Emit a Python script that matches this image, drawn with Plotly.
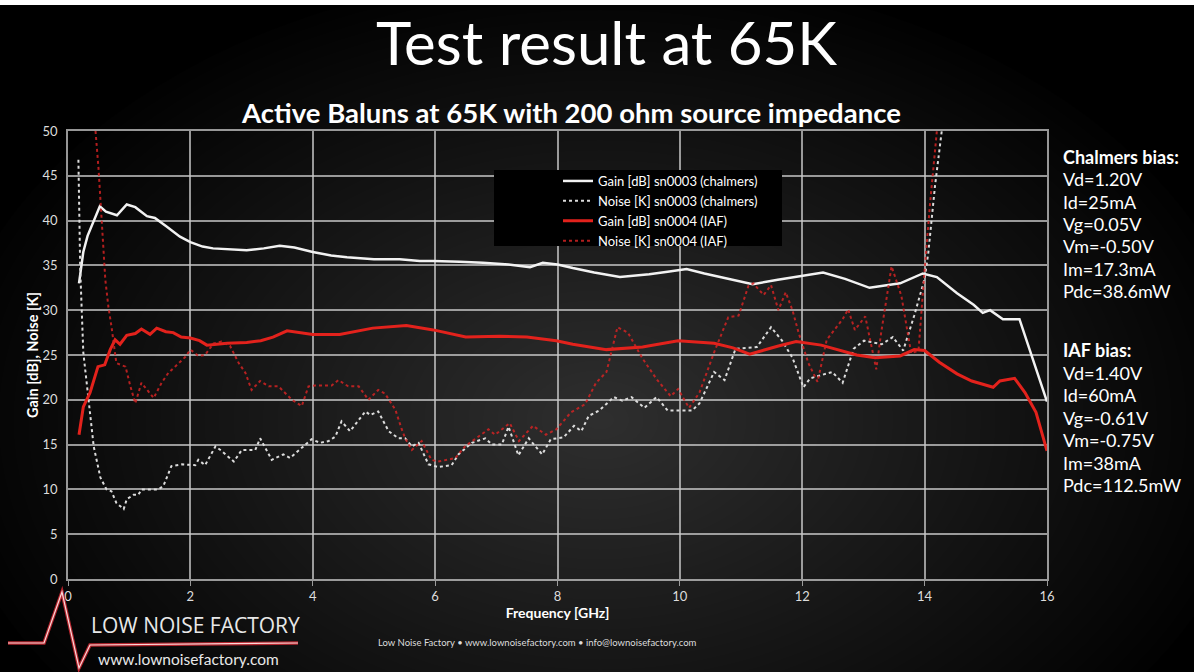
import plotly.graph_objects as go

# ---------------- data ----------------
gain_w_f = [0.18, 0.25, 0.32, 0.42, 0.52, 0.62, 0.8, 0.96, 1.1, 1.29, 1.42, 1.6, 1.83, 2.0, 2.2, 2.37,
            2.65, 2.92, 3.2, 3.46, 3.7, 4.0, 4.3, 4.56, 5.0, 5.42, 5.75, 5.97, 6.4, 6.78, 7.2, 7.55,
            7.76, 8.0, 8.25, 8.6, 9.02, 9.5, 9.8, 10.11, 10.4, 10.8, 11.19, 11.6, 11.96, 12.34, 12.7,
            13.1, 13.6, 13.97, 14.2, 14.53, 14.8, 14.95, 15.07, 15.28, 15.55, 15.75, 16.0]
gain_w_v = [33.0, 36.5, 38.3, 40.0, 41.6, 41.0, 40.6, 41.8, 41.5, 40.5, 40.3, 39.4, 38.2, 37.6, 37.1, 36.9,
            36.8, 36.7, 36.9, 37.2, 37.0, 36.5, 36.1, 35.9, 35.7, 35.7, 35.5, 35.5, 35.4, 35.3, 35.1, 34.8,
            35.3, 35.1, 34.7, 34.2, 33.7, 34.0, 34.3, 34.6, 34.1, 33.5, 32.9, 33.4, 33.8, 34.2, 33.5,
            32.5, 33.0, 34.1, 33.7, 31.9, 30.6, 29.7, 30.0, 29.0, 29.0, 25.0, 19.8]

gain_r_f = [0.18, 0.25, 0.36, 0.49, 0.6, 0.69, 0.77, 0.85, 0.96, 1.1, 1.2, 1.34, 1.45, 1.6, 1.72, 1.85,
            2.0, 2.15, 2.27, 2.6, 2.92, 3.15, 3.35, 3.58, 4.0, 4.44, 4.98, 5.53, 5.97, 6.5, 7.05, 7.5,
            7.98, 8.25, 8.8, 9.39, 9.97, 10.56, 10.87, 11.14, 11.61, 11.9, 12.31, 12.89, 13.19, 13.6,
            13.83, 14.0, 14.24, 14.53, 14.77, 15.12, 15.23, 15.47, 15.64, 15.82, 16.0]
gain_r_v = [16.1, 19.2, 20.8, 23.7, 23.9, 25.6, 26.7, 26.2, 27.2, 27.4, 27.9, 27.3, 28.0, 27.6, 27.5, 27.0,
            26.9, 26.6, 26.1, 26.3, 26.4, 26.6, 27.0, 27.7, 27.3, 27.3, 28.0, 28.3, 27.8, 27.0, 27.1, 27.0,
            26.6, 26.2, 25.6, 25.9, 26.6, 26.3, 25.8, 25.1, 26.0, 26.5, 26.1, 25.0, 24.7, 24.9,
            25.6, 25.5, 24.2, 22.9, 22.1, 21.4, 22.1, 22.4, 20.8, 18.6, 14.3]

noise_w_f = [0.17, 0.2, 0.25, 0.34, 0.42, 0.53, 0.63, 0.71, 0.79, 0.91, 0.96, 1.07, 1.15, 1.2, 1.48, 1.56,
             1.69, 1.86, 2.08, 2.13, 2.24, 2.41, 2.51, 2.71, 2.84, 3.06, 3.14, 3.33, 3.52, 3.63, 3.82,
             3.98, 4.12, 4.26, 4.37, 4.47, 4.61, 4.86, 4.94, 5.07, 5.24, 5.4, 5.51, 5.62, 5.73, 5.89,
             6.05, 6.27, 6.38, 6.6, 6.82, 6.93, 7.09, 7.2, 7.36, 7.53, 7.75, 7.89, 8.1, 8.27, 8.39,
             8.51, 8.68, 8.92, 9.06, 9.21, 9.42, 9.62, 9.8, 10.2, 10.32, 10.56, 10.73, 10.91, 11.26,
             11.49, 11.67, 11.84, 12.02, 12.13, 12.49, 12.66, 12.84, 13.01, 13.3, 13.48, 13.65, 13.83,
             14.0, 14.06, 14.17, 14.28]
noise_w_v = [46.8, 34.5, 25.3, 20.0, 14.8, 11.3, 10.0, 9.8, 8.5, 7.8, 8.9, 9.4, 9.4, 10.0, 10.0, 10.4,
             12.6, 12.8, 12.7, 13.3, 12.7, 14.8, 14.3, 13.1, 14.4, 14.4, 15.7, 13.3, 13.9, 13.5, 14.6,
             15.6, 15.2, 15.4, 15.9, 17.6, 16.5, 18.7, 18.3, 18.7, 16.5, 15.7, 15.7, 14.8, 15.2, 12.8,
             12.5, 12.7, 13.9, 15.2, 15.7, 15.0, 15.0, 17.0, 13.8, 15.7, 13.9, 15.6, 15.8, 17.1, 16.5,
             18.2, 18.8, 20.3, 19.9, 20.3, 19.1, 20.3, 18.8, 18.8, 19.6, 23.1, 22.2, 25.7, 25.9,
             28.1, 26.6, 24.7, 21.4, 22.4, 23.1, 21.9, 25.7, 26.6, 26.2, 27.0, 25.5, 29.4,
             33.5, 36.4, 43.9, 50.0]

noise_r_f = [0.45, 0.5, 0.55, 0.61, 0.66, 0.71, 0.79, 0.94, 1.02, 1.1, 1.2, 1.4, 1.53, 1.64, 1.75, 1.92,
             2.0, 2.13, 2.24, 2.38, 2.51, 2.65, 2.79, 2.9, 3.0, 3.14, 3.28, 3.44, 3.66, 3.82, 3.93,
             4.04, 4.31, 4.42, 4.58, 4.75, 4.91, 5.07, 5.18, 5.35, 5.45, 5.51, 5.62, 5.78, 5.94, 6.05,
             6.33, 6.49, 6.71, 6.87, 6.98, 7.22, 7.37, 7.6, 7.81, 7.98, 8.22, 8.45, 8.63, 8.8, 8.98,
             9.15, 9.39, 9.62, 9.85, 9.97, 10.15, 10.32, 10.56, 10.79, 10.96, 11.12, 11.2, 11.37,
             11.49, 11.61, 11.73, 11.84, 11.94, 12.1, 12.25, 12.4, 12.66, 12.75, 12.86, 13.03, 13.21,
             13.29, 13.46, 13.62, 13.78, 13.9, 14.0, 14.09, 14.2]
noise_r_v = [50.0, 45.7, 40.1, 33.4, 30.4, 28.2, 24.1, 23.7, 21.5, 19.6, 21.9, 20.2, 21.9, 23.0, 23.7, 24.8,
             25.6, 24.9, 25.0, 26.3, 26.5, 26.0, 24.1, 23.0, 21.1, 22.1, 21.5, 21.5, 20.0, 19.3, 21.5,
             21.6, 21.6, 22.2, 21.5, 21.5, 20.0, 21.1, 20.7, 18.9, 16.8, 15.7, 14.4, 15.4, 13.3, 13.1,
             13.5, 14.8, 15.9, 16.7, 16.1, 17.4, 15.4, 17.1, 16.1, 16.7, 18.6, 19.5, 21.9, 23.1, 28.1,
             27.5, 24.6, 22.3, 20.4, 21.2, 19.1, 20.8, 25.3, 29.2, 29.4, 32.7, 33.0, 31.7,
             32.8, 30.0, 32.0, 30.0, 27.5, 24.1, 22.0, 26.7, 29.0, 30.1, 27.8, 29.3, 23.4,
             27.5, 34.9, 31.6, 25.2, 25.5, 34.5, 42.0, 50.0]

series_names = ["Gain [dB] sn0003 (chalmers)", "Noise [K] sn0003 (chalmers)",
                "Gain [dB] sn0004 (IAF)", "Noise [K] sn0004 (IAF)"]

x_ticks = [0, 2, 4, 6, 8, 10, 12, 14, 16]
y_ticks = [0, 5, 10, 15, 20, 25, 30, 35, 40, 45, 50]

chalmers_lines = ["<b>Chalmers bias:</b>", "Vd=1.20V", "Id=25mA", "Vg=0.05V", "Vm=-0.50V", "Im=17.3mA", "Pdc=38.6mW"]
iaf_lines = ["<b>IAF bias:</b>", "Vd=1.40V", "Id=60mA", "Vg=-0.61V", "Vm=-0.75V", "Im=38mA", "Pdc=112.5mW"]

# ---------------- layout geometry ----------------
W, H = 1194, 672
L, R, T, B = 68, 147, 131, 93
PW, PH = W - L - R, H - T - B


def px(xp):
    return (xp - L) / PW


def py(yp):
    return (H - B - yp) / PH


FONT = "Lato, 'Open Sans', sans-serif"

fig = go.Figure()
fig.add_trace(go.Scatter(x=gain_w_f, y=gain_w_v, mode="lines", name=series_names[0],
                         line=dict(color="#f2f2f2", width=2.5)))
fig.add_trace(go.Scatter(x=noise_w_f, y=noise_w_v, mode="lines", name=series_names[1],
                         line=dict(color="#dcdcdc", width=2, dash="dot")))
fig.add_trace(go.Scatter(x=gain_r_f, y=gain_r_v, mode="lines", name=series_names[2],
                         line=dict(color="#e3221c", width=3)))
fig.add_trace(go.Scatter(x=noise_r_f, y=noise_r_v, mode="lines", name=series_names[3],
                         line=dict(color="rgba(210,35,35,0.85)", width=2, dash="dot")))

shapes = []
# smooth radial background glow
N = 45
cx, cy = px(600), py(420)
for k in range(N, 0, -1):
    rx = 660 * k / N / PW
    ry = 450 * k / N / PH
    shapes.append(dict(type="circle", xref="paper", yref="paper", layer="below",
                       x0=cx - rx, x1=cx + rx, y0=cy - ry, y1=cy + ry,
                       fillcolor="rgba(255,255,255,0.0078)", line=dict(width=0)))
# white strip at top
shapes.append(dict(type="rect", xref="paper", yref="paper", layer="above",
                   x0=px(0), x1=px(W), y0=py(5), y1=py(0), fillcolor="white", line=dict(width=0)))
# legend box
shapes.append(dict(type="rect", xref="paper", yref="paper", layer="above",
                   x0=px(494), x1=px(782), y0=py(246), y1=py(170), fillcolor="black", line=dict(width=0)))
# logo heartbeat line
pts = [(8, 643), (44, 643), (62, 592), (79, 668), (90, 645), (298, 643)]
path = "M " + " L ".join(f"{px(a):.5f},{py(b):.5f}" for a, b in pts)
shapes.append(dict(type="path", xref="paper", yref="paper", path=path, layer="above",
                   line=dict(color="rgba(200,40,50,0.9)", width=3.5)))
shapes.append(dict(type="path", xref="paper", yref="paper", path=path, layer="above",
                   line=dict(color="rgba(255,225,225,0.95)", width=1.2)))

annotations = []
annotations.append(dict(text="Test result at 65K", xref="paper", yref="paper", x=px(606), y=py(42),
                        showarrow=False, font=dict(family=FONT, size=60, color="white"),
                        xanchor="center", yanchor="middle"))
annotations.append(dict(text="<b>Active Baluns at 65K with 200 ohm source impedance</b>", xref="paper",
                        yref="paper", x=px(571), y=py(112), showarrow=False,
                        font=dict(family=FONT, size=27.5, color="white"), xanchor="center", yanchor="middle"))
for i, t in enumerate(chalmers_lines):
    annotations.append(dict(text=t, xref="paper", yref="paper", x=px(1061), y=py(157 + 22.3 * i),
                            showarrow=False, xanchor="left", yanchor="middle",
                            font=dict(family=FONT, size=18, color="white")))
for i, t in enumerate(iaf_lines):
    annotations.append(dict(text=t, xref="paper", yref="paper", x=px(1061), y=py(350 + 22.5 * i),
                            showarrow=False, xanchor="left", yanchor="middle",
                            font=dict(family=FONT, size=18, color="white")))
annotations.append(dict(text="LOW NOISE FACTORY", xref="paper", yref="paper", x=px(89), y=py(625),
                        showarrow=False, xanchor="left", yanchor="middle",
                        font=dict(family="'Liberation Sans Narrow', 'Open Sans', sans-serif", size=21,
                                  color="#e8e8e8")))
annotations.append(dict(text="www.lownoisefactory.com", xref="paper", yref="paper", x=px(96), y=py(659),
                        showarrow=False, xanchor="left", yanchor="middle",
                        font=dict(family=FONT, size=15.5, color="#e8e8e8")))
annotations.append(dict(text="Low Noise Factory \u2022 www.lownoisefactory.com \u2022 info@lownoisefactory.com",
                        xref="paper", yref="paper", x=px(537), y=py(642), showarrow=False,
                        xanchor="center", yanchor="middle", font=dict(family=FONT, size=9.5, color="#dddddd")))

grid_c = "rgba(200,200,200,0.75)"
fig.update_layout(
    width=W, height=H,
    margin=dict(l=L, r=R, t=T, b=B, pad=0),
    paper_bgcolor="black",
    plot_bgcolor="rgba(0,0,0,0)",
    shapes=shapes,
    annotations=annotations,
    showlegend=True,
    legend=dict(x=px(558), y=py(166), xanchor="left", yanchor="top", bgcolor="rgba(0,0,0,0)",
                font=dict(family=FONT, size=13, color="white"), tracegroupgap=0, itemwidth=30),
    font=dict(family=FONT, color="#dddddd"),
    xaxis=dict(range=[0, 16], tickvals=x_ticks, ticktext=[str(v) for v in x_ticks],
               showgrid=True, gridcolor=grid_c, gridwidth=1.5, zeroline=False,
               showline=True, linecolor=grid_c, linewidth=1.5, mirror=True,
               ticks="outside", ticklen=5, tickcolor=grid_c,
               tickfont=dict(family=FONT, size=13, color="#dddddd"),
               title=dict(text="<b>Frequency [GHz]</b>", font=dict(family=FONT, size=14, color="white"),
                          standoff=0)),
    yaxis=dict(range=[0, 50], tickvals=y_ticks, ticktext=[str(v) for v in y_ticks],
               showgrid=True, gridcolor=grid_c, gridwidth=1.5, zeroline=False,
               showline=True, linecolor=grid_c, linewidth=1.5, mirror=True,
               ticks="", ticklabelstandoff=6,
               tickfont=dict(family=FONT, size=13, color="#dddddd"),
               title=dict(text="<b>Gain [dB], Noise [K]</b>", font=dict(family=FONT, size=14.5, color="white"),
                          standoff=0)),
)

fig.write_html("out.html", config={"displayModeBar": False},
               post_script="document.body.style.margin='0';document.body.style.background='black';")
